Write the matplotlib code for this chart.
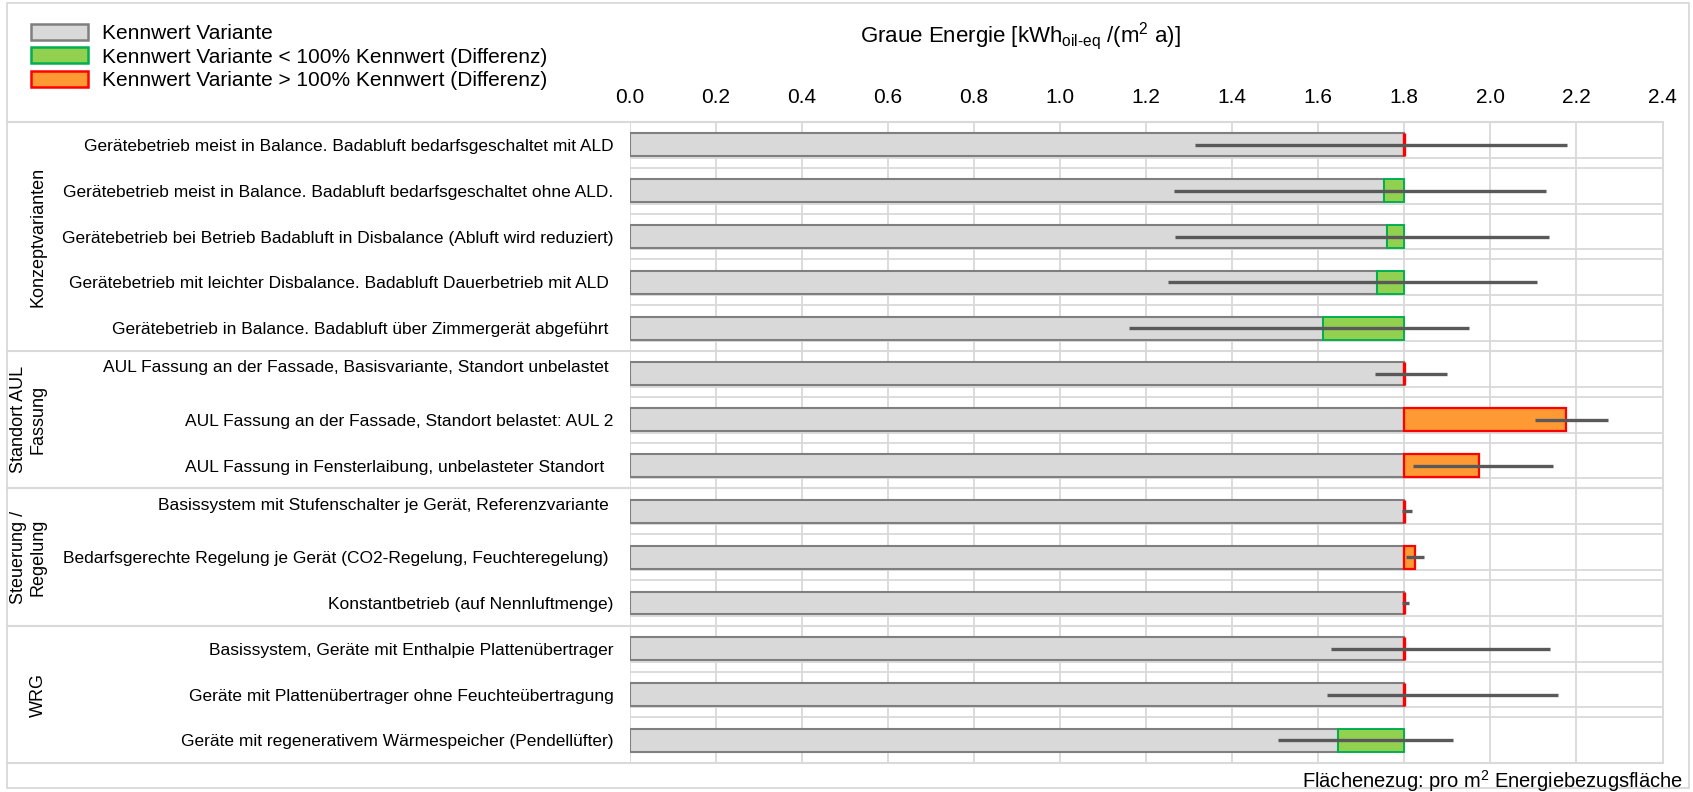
import numpy as np
import matplotlib
matplotlib.use("Agg")
import matplotlib.pyplot as plt
from matplotlib.patches import Patch, Rectangle
from matplotlib.transforms import blended_transform_factory

plt.rcParams['font.family'] = ['Liberation Sans', 'DejaVu Sans']
plt.rcParams['mathtext.fontset'] = 'custom'
plt.rcParams['mathtext.rm'] = 'Liberation Sans'
plt.rcParams['mathtext.it'] = 'Liberation Sans:italic'
plt.rcParams['mathtext.default'] = 'regular'

# data
labels = [
    "Gerätebetrieb meist in Balance. Badabluft bedarfsgeschaltet mit ALD",
    "Gerätebetrieb meist in Balance. Badabluft bedarfsgeschaltet ohne ALD.",
    "Gerätebetrieb bei Betrieb Badabluft in Disbalance (Abluft wird reduziert)",
    "Gerätebetrieb mit leichter Disbalance. Badabluft Dauerbetrieb mit ALD ",
    "Gerätebetrieb in Balance. Badabluft über Zimmergerät abgeführt ",
    "AUL Fassung an der Fassade, Basisvariante, Standort unbelastet \n",
    "AUL Fassung an der Fassade, Standort belastet: AUL 2",
    "AUL Fassung in Fensterlaibung, unbelasteter Standort  ",
    "Basissystem mit Stufenschalter je Gerät, Referenzvariante \n",
    "Bedarfsgerechte Regelung je Gerät (CO2-Regelung, Feuchteregelung) ",
    "Konstantbetrieb (auf Nennluftmenge)",
    "Basissystem, Geräte mit Enthalpie Plattenübertrager",
    "Geräte mit Plattenübertrager ohne Feuchteübertragung",
    "Geräte mit regenerativem Wärmespeicher (Pendellüfter)",
]
groups = ["Konzeptvarianten", "Standort AUL\nFassung", "Steuerung /\nRegelung", "WRG"]
group_sizes = [5, 3, 3, 3]
reference = 1.8
variant = np.array([1.80, 1.754, 1.760, 1.736, 1.611, 1.80, 2.175, 1.974,
                    1.80, 1.824, 1.80, 1.80, 1.80, 1.645])
err_low = np.array([1.313, 1.265, 1.268, 1.252, 1.161, 1.733, 2.104, 1.821,
                    1.794, 1.803, 1.794, 1.630, 1.621, 1.506])
err_high = np.array([2.179, 2.130, 2.137, 2.109, 1.950, 1.899, 2.273, 2.146,
                     1.819, 1.845, 1.811, 2.138, 2.158, 1.914])
xticks = np.round(np.arange(0, 2.41, 0.2), 1)

legend_labels = ["Kennwert Variante",
                 "Kennwert Variante < 100% Kennwert (Differenz)",
                 "Kennwert Variante > 100% Kennwert (Differenz)"]

W, H = 1693, 792
grid_c = '#d9d9d9'
fig = plt.figure(figsize=(W / 100, H / 100), dpi=100)
ax = fig.add_axes([629.5 / W, 1 - 763.3 / H, (1662.5 - 629.5) / W, (763.3 - 122) / H])

n = len(labels)
y = np.arange(n)
ax.set_ylim(n - 0.5, -0.5)
ax.set_xlim(0, 2.4)

# grid
ax.set_xticks(xticks)
ax.xaxis.set_major_formatter(matplotlib.ticker.FormatStrFormatter('%.1f'))
ax.grid(axis='x', color=grid_c, lw=1.3, zorder=0)
for k in range(n - 1):
    ax.axhline(k + 0.5, color=grid_c, lw=1.3, zorder=0.5)
    ax.axhline(k + 0.28, color=grid_c, lw=1.3, zorder=0.5)
ax.set_axisbelow(True)

base = np.minimum(variant, reference)
ax.barh(y, base, height=0.5, color='#d9d9d9', edgecolor='#7f7f7f', lw=1.5, zorder=2)
low = variant < reference
high = variant > reference
same = ~low & ~high
ax.barh(y[low], reference - variant[low], left=variant[low], height=0.5,
        color='#92d050', edgecolor='#00b050', lw=1.4, zorder=3)
ax.barh(y[high], variant[high] - reference, left=reference, height=0.5,
        color='#ff9933', edgecolor='#ff0000', lw=1.6, zorder=3)
ax.barh(y[same], variant[same] - reference, left=reference, height=0.5,
        color='#ff9933', edgecolor='#ff0000', lw=2.4, zorder=3)
ax.hlines(y, err_low, err_high, color='#595959', lw=2.4, zorder=4)

for s in ['top', 'bottom', 'left']:
    ax.spines[s].set_visible(False)
ax.spines['right'].set_color(grid_c)
ax.spines['right'].set_linewidth(1.3)

ax.tick_params(axis='x', top=True, bottom=False, labeltop=True, labelbottom=False,
               length=0, pad=11, labelsize=15)
ax.set_yticks(y)
ax.set_yticklabels(labels, fontsize=12.5)
ax.tick_params(axis='y', length=0, pad=11.5)

# group separators and labels
trans = blended_transform_factory(fig.transFigure, ax.transData)
edges = np.concatenate([[0], np.cumsum(group_sizes)]) - 0.5
for b in edges:
    ax.plot([7 / W, 1662.5 / W], [b, b], transform=trans, color=grid_c,
            lw=1.5, clip_on=False, zorder=1)
for g, lo, hi in zip(groups, edges[:-1], edges[1:]):
    xg = 28 / W if '\n' in g else 38 / W
    ax.text(xg, (lo + hi) / 2, g, transform=trans, rotation=90, ha='center',
            va='center', fontsize=13, multialignment='center')

# outer frame
fig.patches.append(Rectangle((7 / W, 4 / H), (1689 - 7) / W, (789 - 4) / H,
                             transform=fig.transFigure, fill=False,
                             edgecolor=grid_c, lw=1.3))

# legend
handles = [Patch(facecolor='#d9d9d9', edgecolor='#7f7f7f', lw=1.8),
           Patch(facecolor='#92d050', edgecolor='#00b050', lw=1.8),
           Patch(facecolor='#ff9933', edgecolor='#ff0000', lw=1.8)]
fig.legend(handles, legend_labels, loc='upper left', bbox_to_anchor=(31 / W, 1 - 24 / H),
           frameon=False, fontsize=15, handlelength=2.75, handleheight=0.8,
           handletextpad=0.65, labelspacing=0.2, borderpad=0, borderaxespad=0)

fig.text(1020 / W, 1 - 36 / H, r"Graue Energie [kWh$_{\text{oil-eq}}$ /(m$^2$ a)]",
         ha='center', va='center', fontsize=16)
fig.text(1683 / W, 1 - 781 / H, r"Flächenezug: pro m$^2$ Energiebezugsfläche",
         ha='right', va='center', fontsize=14.5)

fig.savefig('out.png', dpi=100)
